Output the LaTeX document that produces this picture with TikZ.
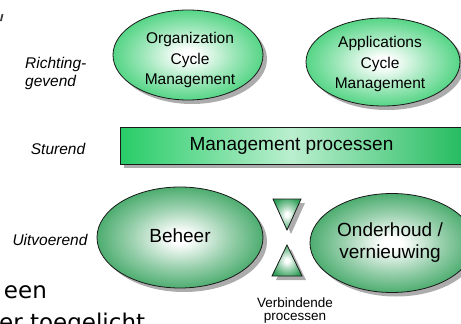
\documentclass[tikz,border=0pt]{standalone}
\usepackage{fontspec}
\setmainfont{Liberation Sans}
\newfontfamily\widesans{DejaVu Sans}
\usetikzlibrary{shapes.geometric,shadows}

\definecolor{topgreen}{RGB}{38,201,100}
\definecolor{botgreen}{RGB}{28,150,72}
\definecolor{bargreen}{RGB}{40,204,104}
\definecolor{outline}{RGB}{25,25,25}
\definecolor{shadowgray}{RGB}{172,172,172}

% soft white glow in the middle, full green towards the rim
\pgfdeclareradialshading{topglow}{\pgfpoint{0bp}{0bp}}{%
  color(0bp)=(white); color(3bp)=(white); color(15bp)=(topgreen!45!white);
  color(28bp)=(topgreen!88!white); color(37bp)=(topgreen); color(50bp)=(topgreen)}
\pgfdeclareradialshading{botglow}{\pgfpoint{0bp}{0bp}}{%
  color(0bp)=(white); color(3bp)=(white); color(15bp)=(botgreen!45!white);
  color(28bp)=(botgreen!88!white); color(37bp)=(botgreen); color(50bp)=(botgreen)}

\tikzset{
  shadowed/.style={drop shadow={shadow xshift=4pt, shadow yshift=-4pt,
      fill=shadowgray, opacity=1}},
  oval/.style={ellipse, draw=outline, line width=0.8pt, inner sep=0pt, shadowed},
  topoval/.style={oval, shading=topglow},
  botoval/.style={oval, shading=botglow},
  ovaltext/.style={align=center, inner sep=0pt, font=\fontsize{15.5}{20.5}\selectfont},
  bigtext/.style={align=center, inner sep=0pt, font=\fontsize{19}{22}\selectfont},
  layerlabel/.style={inner sep=0pt, align=left, font=\fontsize{15.5}{18}\selectfont\itshape},
  tri/.style={draw=outline, line width=0.8pt, shading=botglow, shadowed},
  slidetext/.style={inner sep=0pt, font=\widesans\fontsize{23}{28}\selectfont},
}

\begin{document}
\begin{tikzpicture}[x=1pt, y=-1pt]
  \useasboundingbox (0,0) rectangle (461,324);
  \clip (0,0) rectangle (461,324);

  % stray fragment at the upper left edge
  \fill[black!75] (1.6,14) -- (3.4,14) -- (1.8,21) -- (0,21) -- cycle;

  % layer labels
  \node[layerlabel, anchor=west] (lblricht) at (25,73) {Richting-\\gevend};
  \node[layerlabel] (lblstuur) at (58,148.5) {Sturend};
  \node[layerlabel] (lbluit) at (50,240) {Uitvoerend};

  % directing layer
  \node[topoval, minimum width=150pt, minimum height=90pt] (org) at (188,55) {};
  \node[ovaltext] (orgtext) at (190,60) {Organization\\Cycle\\Management};
  \node[topoval, minimum width=154pt, minimum height=88pt] (app) at (383,62) {};
  \node[ovaltext] (apptext) at (380,64) {Applications\\Cycle\\Management};

  % steering layer
  \node[draw=outline, line width=0.8pt, rectangle, minimum width=343pt,
        minimum height=37pt, inner sep=0pt, shadowed,
        left color=bargreen, right color=bargreen!92!black,
        middle color=bargreen!32!white, font=\fontsize{19}{22}\selectfont]
        (mgmt) at (291.5,145.5) {Management processen};

  % executing layer
  \node[botoval, minimum width=166pt, minimum height=101pt] (beheer) at (180,237.5) {};
  \node[bigtext] (behtext) at (180,236) {Beheer};
  \node[botoval, minimum width=164pt, minimum height=99pt] (onder) at (392,243) {};
  \node[bigtext] (ondtext) at (390,243) {Onderhoud /\\vernieuwing};

  % connecting processes
  \path[tri] (273,199) -- (301,199) -- (287,230) -- cycle;
  \path[tri] (287,245) -- (302,276) -- (272,276) -- cycle;
  \node[align=center, inner sep=0pt, font=\fontsize{13.5}{12.5}\selectfont]
        (verb) at (295,310.5) {Verbindende\\processen};

  % slide text running off the lower edge
  \node[slidetext, anchor=base west] (een) at (3.8,298) {een};
  \node[slidetext, anchor=base west] (toeg) at (-1,330) {er toegelicht};
\end{tikzpicture}
\end{document}
